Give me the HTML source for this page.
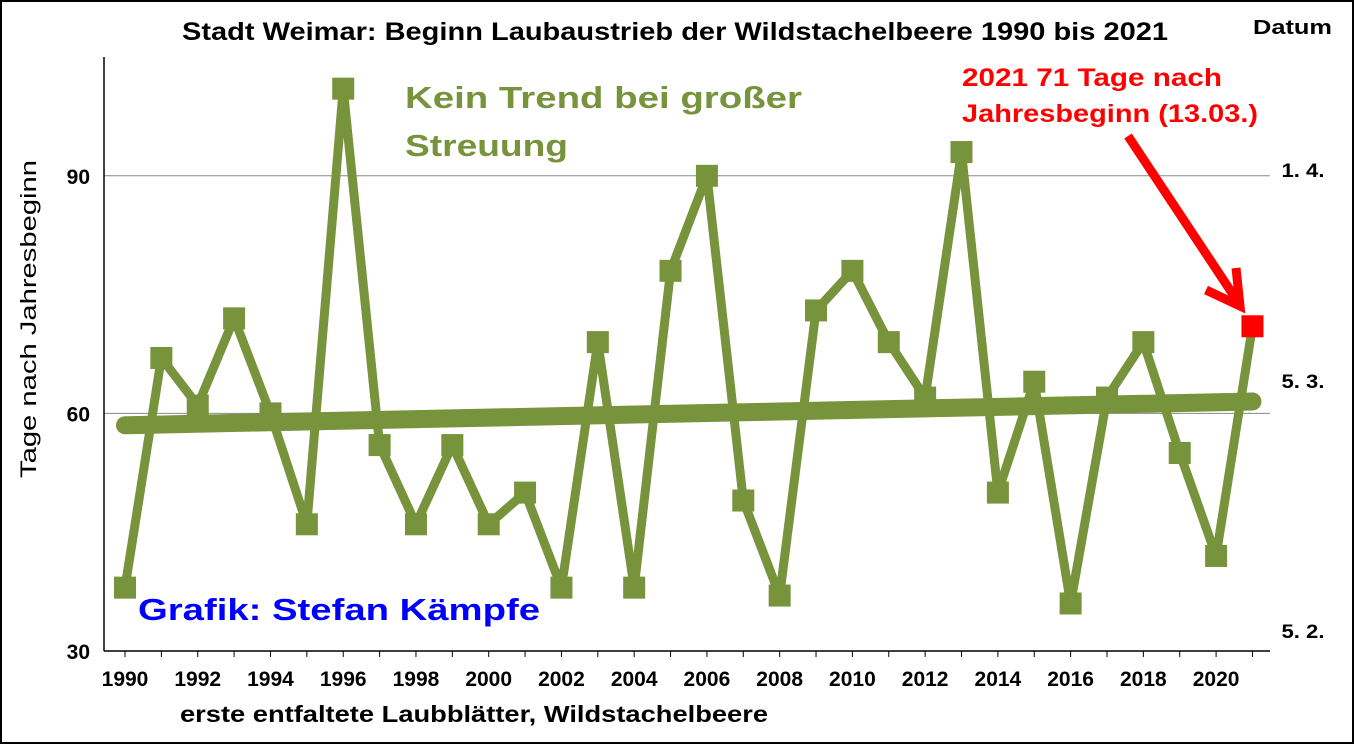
<!DOCTYPE html>
<html><head><meta charset="utf-8"><style>
body{margin:0;background:#fff}
svg text{font-family:"Liberation Sans",sans-serif;font-weight:bold}
</style></head><body>
<svg id="chart" width="1354" height="744" xmlns="http://www.w3.org/2000/svg">
<rect x="1" y="1" width="1352" height="742" fill="#fff" stroke="#000" stroke-width="2"/>
<text x="182" y="40" font-size="25" textLength="986" lengthAdjust="spacingAndGlyphs">Stadt Weimar: Beginn Laubaustrieb der Wildstachelbeere 1990 bis 2021</text>
<text x="1253" y="34" font-size="20" textLength="79" lengthAdjust="spacingAndGlyphs">Datum</text>
<text x="36" y="478" font-size="22" style="font-weight:normal" textLength="318" lengthAdjust="spacingAndGlyphs" transform="rotate(-90 36 478)">Tage nach Jahresbeginn</text>
<text x="180" y="722" font-size="23" textLength="588" lengthAdjust="spacingAndGlyphs">erste entfaltete Laubblätter, Wildstachelbeere</text>
<g id="grid"></g><g id="axes"></g><g id="marks"></g>
<text x="405" y="108" font-size="31" fill="#77933c" textLength="397" lengthAdjust="spacingAndGlyphs">Kein Trend bei großer</text>
<text x="405" y="156" font-size="31" fill="#77933c" textLength="163" lengthAdjust="spacingAndGlyphs">Streuung</text>
<text x="138" y="620" font-size="31" fill="#0000ff" textLength="402" lengthAdjust="spacingAndGlyphs">Grafik: Stefan Kämpfe</text>
<text x="962" y="86" font-size="25" fill="#ff0000" textLength="260" lengthAdjust="spacingAndGlyphs">2021 71 Tage nach</text>
<text x="962" y="122" font-size="25" fill="#ff0000" textLength="296" lengthAdjust="spacingAndGlyphs">Jahresbeginn (13.03.)</text>
<g>
<line x1="1128" y1="136" x2="1238" y2="302" stroke="#ff0000" stroke-width="9"/>
<polyline points="1206,290 1240,306 1236,268" fill="none" stroke="#ff0000" stroke-width="9"/>
</g>
</svg>
<script>
const years=[1990,1991,1992,1993,1994,1995,1996,1997,1998,1999,2000,2001,2002,2003,2004,2005,2006,2007,2008,2009,2010,2011,2012,2013,2014,2015,2016,2017,2018,2019,2020,2021];
const values=[38,67,61,72,60,46,101,56,46,56,46,50,38,69,38,78,90,49,37,73,78,69,62,93,50,64,36,62,69,55,42,71];
const yTicks=[30,60,90];
const xTickLabels=[1990,1992,1994,1996,1998,2000,2002,2004,2006,2008,2010,2012,2014,2016,2018,2020];
const dateLabels=[[30,"5. 2."],[60,"5. 3."],[90,"1. 4."]];
const trend=[58.5,61.5];
const NS="http://www.w3.org/2000/svg";
const L=104,R=1270,T=57,B=651;
const xs=y=>125+(y-1990)*36.37;
const ys=v=>B-(v-30)*(B-T)/75;
function el(tag,a,p){const e=document.createElementNS(NS,tag);for(const k in a)e.setAttribute(k,a[k]);document.getElementById(p).appendChild(e);return e;}
yTicks.forEach(v=>{
 if(v>30){const g=el('line',{x1:L,x2:R,y1:ys(v),y2:ys(v),stroke:'#888','stroke-width':1},'grid');
 
 }
 const t=el('text',{x:L-14,y:ys(v)+8,'font-size':21,'text-anchor':'end'},'axes');t.textContent=v;
 
 
});
dateLabels.forEach(d=>{const t=el('text',{x:1303,y:d[0]==90?177:d[0]==60?388:638,'font-size':19,'text-anchor':'middle',textLength:43,lengthAdjust:'spacingAndGlyphs'},'axes');
 t.textContent=d[1];
 
 });
const ax=el('line',{x1:L,x2:L,y1:T,y2:B,stroke:'#000','stroke-width':1.5},'axes');


const bx=el('line',{x1:L,x2:R,y1:B,y2:B,stroke:'#000','stroke-width':1.5},'axes');


years.forEach(y=>{const t=el('line',{x1:xs(y),x2:xs(y),y1:B,y2:B+6,stroke:'#000'},'axes');
 
 });
xTickLabels.forEach(y=>{const t=el('text',{x:xs(y),y:B+35,'font-size':21,'text-anchor':'middle'},'axes');t.textContent=y;
 
 });
const pts=years.map((y,i)=>xs(y)+','+ys(values[i])).join(' ');
const line=el('polyline',{points:pts,fill:'none',stroke:'#77933c','stroke-width':9,'stroke-linejoin':'round'},'marks');


const tr=el('line',{x1:xs(1990),y1:ys(trend[0]),x2:xs(2021),y2:ys(trend[1]),stroke:'#77933c','stroke-width':18,'stroke-linecap':'round'},'marks');


years.forEach((y,i)=>{const last=i==years.length-1;
 const m=el('rect',{x:xs(y)-11,y:ys(values[i])-11,width:22,height:22,fill:last?'#ff0000':'#77933c'},'marks');
 
 });
</script>
</body></html>
